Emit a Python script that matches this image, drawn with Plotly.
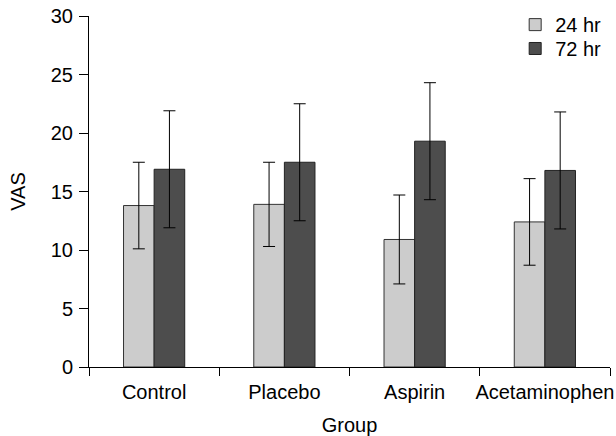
import plotly.graph_objects as go

groups = ["Control", "Placebo", "Aspirin", "Acetaminophen"]
vas_24 = [13.8, 13.9, 10.9, 12.4]
err_24 = [3.7, 3.6, 3.8, 3.7]
vas_72 = [16.9, 17.5, 19.3, 16.8]
err_72 = [5.0, 5.0, 5.0, 5.0]

font = "Liberation Sans, Arial, sans-serif"

fig = go.Figure()
fig.add_trace(go.Bar(
    x=groups, y=vas_24, name="24 hr", legend="legend",
    marker=dict(color="#cccccc", line=dict(color="#333333", width=1)),
    error_y=dict(type="data", array=err_24, color="black", thickness=1, width=6),
))
fig.add_trace(go.Bar(
    x=groups, y=vas_72, name="72 hr", legend="legend2",
    marker=dict(color="#4d4d4d", line=dict(color="#222222", width=1)),
    error_y=dict(type="data", array=err_72, color="black", thickness=1, width=6),
))

leg = dict(xanchor="left", yanchor="top", bgcolor="rgba(0,0,0,0)",
           font=dict(size=20), itemwidth=30)

fig.update_layout(
    width=616, height=436,
    margin=dict(l=89, r=6, t=16, b=69, autoexpand=False),
    paper_bgcolor="white", plot_bgcolor="white",
    barmode="group", bargap=0.53, bargroupgap=0,
    font=dict(family=font, size=20, color="black"),
    showlegend=True,
    legend=dict(x=0.818, y=1.031, **leg),
    legend2=dict(x=0.818, y=0.963, **leg),
)
fig.update_xaxes(
    type="category", showline=True, linecolor="black", linewidth=1,
    ticks="outside", tickson="boundaries", ticklen=8, tickcolor="black",
    ticklabelstandoff=7,
    showgrid=False, zeroline=False, automargin=False, tickangle=0,
    tickfont=dict(size=20),
    title=dict(text="Group", font=dict(size=20), standoff=16),
)
fig.update_yaxes(
    range=[0, 30], tickvals=[0, 5, 10, 15, 20, 25, 30],
    showline=True, linecolor="black", linewidth=1,
    ticks="outside", ticklen=9, tickcolor="black", ticklabelstandoff=2,
    showgrid=False, zeroline=False, automargin=False,
    tickfont=dict(size=20),
    title=dict(text="VAS", font=dict(size=20), standoff=19),
)

fig.write_html("out.html", config={"displayModeBar": False},
               post_script="document.body.style.margin='0';")
